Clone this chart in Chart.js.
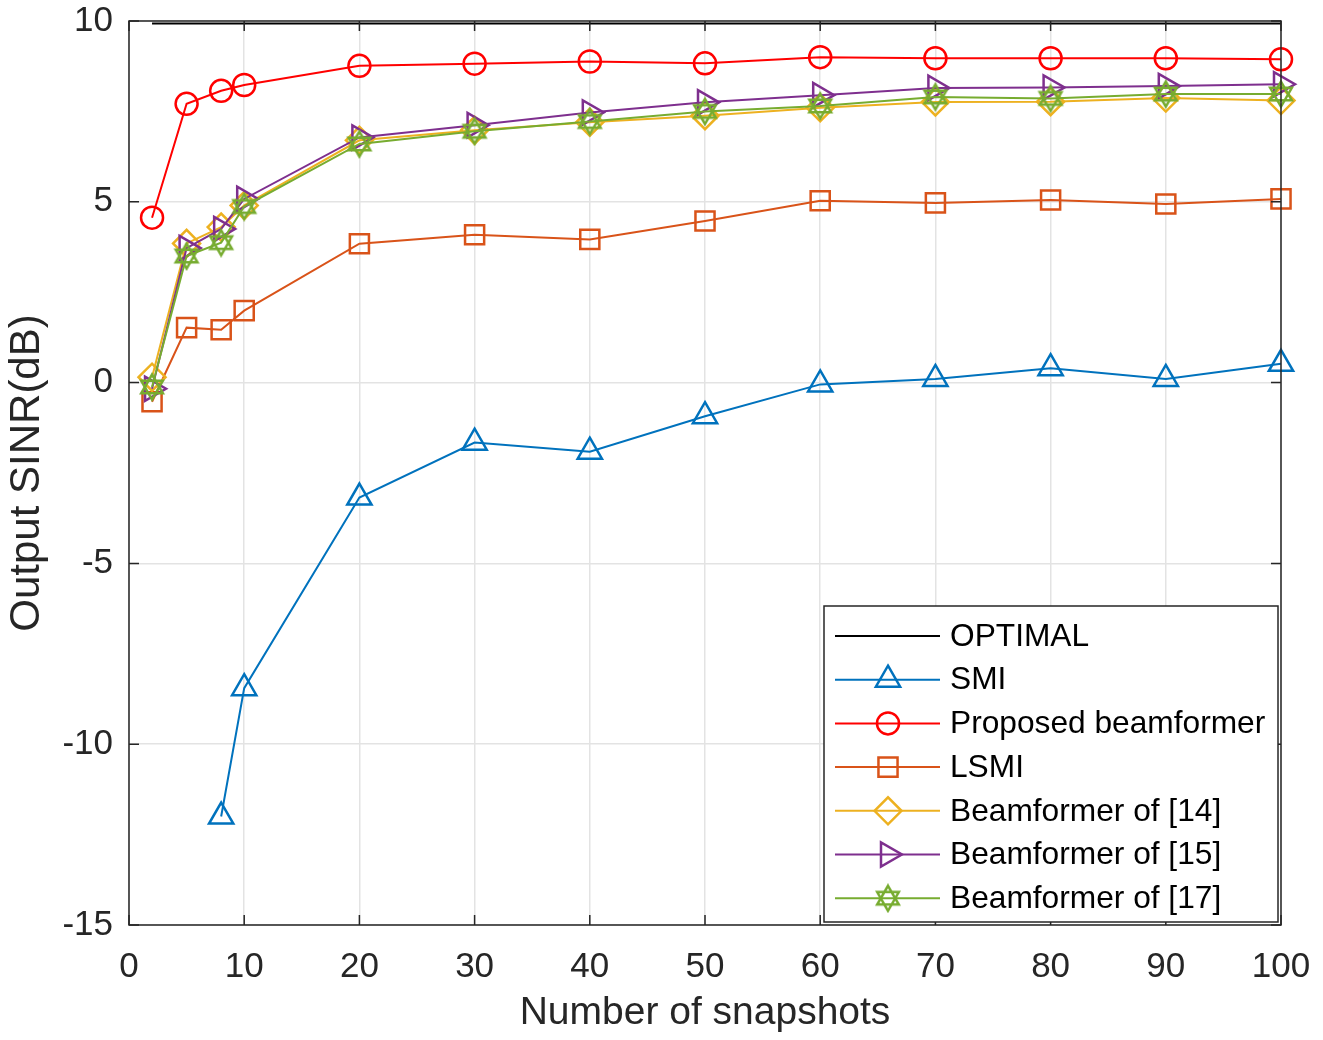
<!DOCTYPE html>
<html>
<head>
<meta charset="utf-8">
<title>Output SINR vs number of snapshots</title>
<script src="https://cdn.jsdelivr.net/npm/chart.js@4/dist/chart.umd.min.js"></script>
<style>
  html, body { margin: 0; padding: 0; background: #fff; }
  canvas { display: block; }
</style>
</head>
<body>
<canvas id="sinr" width="1323" height="1040"></canvas>
<script>
const snapshots = [2, 5, 8, 10, 20, 30, 40, 50, 60, 70, 80, 90, 100];
const optimal = [9.93, 9.93, 9.93, 9.93, 9.93, 9.93, 9.93, 9.93, 9.93, 9.93, 9.93, 9.93, 9.93];
const smi = [null, null, -12.0, -8.45, -3.18, -1.66, -1.91, -0.93, -0.05, 0.1, 0.4, 0.1, 0.52];
const proposed = [4.56, 7.71, 8.07, 8.23, 8.76, 8.82, 8.88, 8.83, 9.0, 8.97, 8.97, 8.97, 8.94];
const lsmi = [-0.53, 1.52, 1.46, 1.99, 3.84, 4.09, 3.96, 4.47, 5.03, 4.97, 5.05, 4.94, 5.08];
const bf14 = [0.15, 3.85, 4.3, 4.9, 6.7, 6.98, 7.2, 7.38, 7.6, 7.76, 7.77, 7.87, 7.8];
const bf15 = [-0.17, 3.72, 4.25, 5.08, 6.78, 7.12, 7.47, 7.75, 7.95, 8.15, 8.16, 8.2, 8.25];
const bf17 = [-0.12, 3.5, 3.87, 4.87, 6.6, 6.95, 7.22, 7.5, 7.65, 7.9, 7.86, 7.98, 7.98];

const colors = {
  black: "#000000",
  blue: "#0072bd",
  red: "#ff0000",
  orange: "#d95319",
  gold: "#edb120",
  purple: "#7e2f8e",
  green: "#77ac30",
  axis: "#262626",
  grid: "#e3e3e3",
};
const font = "'Liberation Sans', Arial, Helvetica, sans-serif";

// matlab hexagram marker, chart.js has none
function hexagram(color) {
  const c = document.createElement("canvas");
  c.width = 30;
  c.height = 30;
  const g = c.getContext("2d");
  g.strokeStyle = color;
  g.lineWidth = 2.5;
  g.lineJoin = "miter";
  const r = 12.5;
  for (const start of [-90, 90]) {
    g.beginPath();
    for (let k = 0; k < 3; k++) {
      const a = ((start + k * 120) * Math.PI) / 180;
      const px = 15 + r * Math.cos(a);
      const py = 15 + r * Math.sin(a);
      if (k === 0) g.moveTo(px, py);
      else g.lineTo(px, py);
    }
    g.closePath();
    g.stroke();
  }
  return c;
}

function series(label, values, color, style, radius, rotation = 0) {
  return {
    label,
    data: values,
    borderColor: color,
    backgroundColor: color,
    borderWidth: 2,
    pointStyle: style,
    pointRadius: radius,
    pointHoverRadius: radius,
    pointRotation: rotation,
    pointBorderColor: color,
    pointBackgroundColor: "rgba(0,0,0,0)",
    pointBorderWidth: 2.5,
    tension: 0,
    spanGaps: false,
    clip: false,
  };
}

const datasets = [
  series("OPTIMAL", optimal, colors.black, false, 0),
  series("SMI", smi, colors.blue, "triangle", 14),
  series("Proposed beamformer", proposed, colors.red, "circle", 11),
  series("LSMI", lsmi, colors.orange, "rect", 13.5),
  series("Beamformer of [14]", bf14, colors.gold, "rectRot", 13.5),
  series("Beamformer of [15]", bf15, colors.purple, "triangle", 14, 90),
  series("Beamformer of [17]", bf17, colors.green, hexagram(colors.green), 13),
];
datasets.forEach((d, i) => {
  d.data = d.data.map((v, j) => ({ x: snapshots[j], y: v }));
  d.order = 10 - i;
});

const frame = {
  id: "frame",
  afterDatasetsDraw(chart) {
    const { ctx, chartArea: a, scales } = chart;
    ctx.save();
    ctx.strokeStyle = colors.axis;
    ctx.lineWidth = 1.5;
    ctx.beginPath();
    for (const t of scales.x.ticks) {
      const px = scales.x.getPixelForValue(t.value);
      ctx.moveTo(px, a.bottom);
      ctx.lineTo(px, a.bottom - 10);
      ctx.moveTo(px, a.top);
      ctx.lineTo(px, a.top + 10);
    }
    for (const t of scales.y.ticks) {
      const py = scales.y.getPixelForValue(t.value);
      ctx.moveTo(a.left, py);
      ctx.lineTo(a.left + 10, py);
      ctx.moveTo(a.right, py);
      ctx.lineTo(a.right - 10, py);
    }
    ctx.stroke();
    ctx.strokeRect(a.left, a.top, a.width, a.height);
    ctx.restore();
  },
};

const legendBox = {
  id: "legendBox",
  afterDraw(chart) {
    const { ctx, chartArea: a } = chart;
    const w = 454;
    const h = 316;
    const x0 = a.right - 3 - w;
    const y0 = a.bottom - 3 - h;
    ctx.save();
    ctx.fillStyle = "#ffffff";
    ctx.fillRect(x0, y0, w, h);
    ctx.strokeStyle = "#262626";
    ctx.lineWidth = 1.5;
    ctx.strokeRect(x0, y0, w, h);
    ctx.font = `31.7px ${font}`;
    ctx.textBaseline = "middle";
    ctx.textAlign = "left";
    chart.data.datasets.forEach((d, i) => {
      const cy = y0 + 30 + i * 43.7;
      ctx.strokeStyle = d.borderColor;
      ctx.lineWidth = d.borderWidth;
      ctx.beginPath();
      ctx.moveTo(x0 + 11, cy);
      ctx.lineTo(x0 + 116, cy);
      ctx.stroke();
      if (d.pointStyle && d.pointRadius > 0) {
        ctx.strokeStyle = d.pointBorderColor;
        ctx.fillStyle = "rgba(0,0,0,0)";
        ctx.lineWidth = d.pointBorderWidth;
        Chart.helpers.drawPoint(
          ctx,
          {
            pointStyle: d.pointStyle,
            radius: d.pointRadius,
            rotation: d.pointRotation,
            borderWidth: d.pointBorderWidth,
          },
          x0 + 64,
          cy,
        );
      }
      ctx.fillStyle = "#000000";
      ctx.fillText(d.label, x0 + 126, cy + 1);
    });
    ctx.restore();
  },
};

new Chart(document.getElementById("sinr"), {
  type: "line",
  data: { datasets },
  plugins: [frame, legendBox],
  options: {
    responsive: false,
    animation: false,
    events: [],
    layout: { padding: { top: 21, right: 42, left: 0, bottom: 0 } },
    plugins: { legend: { display: false }, tooltip: { enabled: false } },
    scales: {
      x: {
        type: "linear",
        min: 0,
        max: 100,
        afterFit(scale) {
          scale.height = 115;
          scale.paddingLeft = 0;
          scale.paddingRight = 0;
        },
        ticks: {
          stepSize: 10,
          color: colors.axis,
          padding: 21,
          maxRotation: 0,
          font: { family: font, size: 35 },
        },
        grid: { color: colors.grid, lineWidth: 1.5, drawTicks: false },
        border: { display: false },
        title: {
          display: true,
          text: "Number of snapshots",
          color: colors.axis,
          font: { family: font, size: 39 },
          padding: { top: 0, bottom: 3 },
        },
      },
      y: {
        min: -15,
        max: 10,
        afterFit(scale) {
          scale.width = 129;
          scale.paddingTop = 0;
          scale.paddingBottom = 0;
        },
        ticks: {
          stepSize: 5,
          color: colors.axis,
          padding: 16,
          font: { family: font, size: 35 },
        },
        grid: { color: colors.grid, lineWidth: 1.5, drawTicks: false },
        border: { display: false },
        title: {
          display: true,
          text: "Output SINR(dB)",
          color: colors.axis,
          font: { family: font, size: 42 },
          padding: { top: 2, bottom: 0 },
        },
      },
    },
  },
});
</script>
</body>
</html>
